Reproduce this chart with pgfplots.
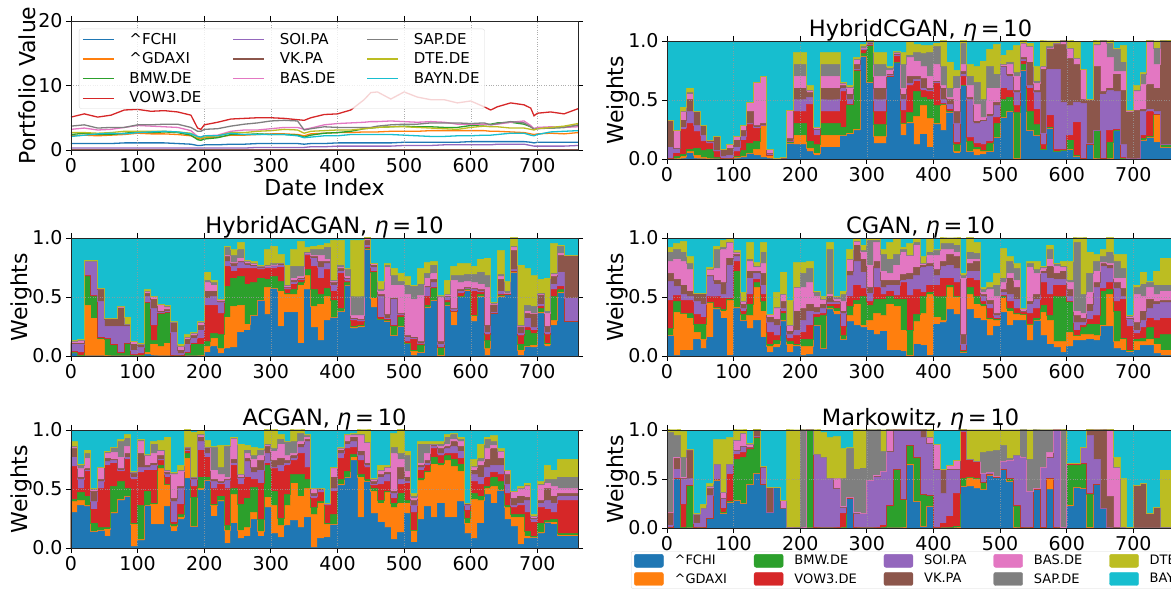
\documentclass[border=0pt]{standalone}
\usepackage{fontspec}
\setmainfont{DejaVu Sans}
\usepackage{pgfplots}
\usepackage{pgfplotstable}
\pgfplotsset{compat=1.18}
\definecolor{t1}{HTML}{1F77B4}\definecolor{t2}{HTML}{FF7F0E}\definecolor{t3}{HTML}{2CA02C}\definecolor{t4}{HTML}{D62728}\definecolor{t5}{HTML}{9467BD}
\definecolor{t6}{HTML}{8C564B}\definecolor{t7}{HTML}{E377C2}\definecolor{t8}{HTML}{7F7F7F}\definecolor{t9}{HTML}{BCBD22}\definecolor{t10}{HTML}{17BECF}
\pgfplotstableread{
x a b c d e f g h i j
0 1.0 2.2 2.4 5.1 .3 .1 3.2 3.7 2.7 2.1
20 1.0 2.3 2.6 5.6 .3 .1 3.4 3.9 2.7 2.3
40 1.0 2.2 2.4 5.1 .3 .1 3.1 3.4 2.6 2.5
60 1.0 2.3 2.4 5.4 .3 .1 3.2 3.5 2.7 2.6
80 1.1 2.4 2.6 6.2 .3 .1 3.5 3.5 2.9 2.5
100 1.1 2.6 2.8 6.3 .3 .1 3.8 3.9 2.9 2.7
120 1.1 2.5 2.7 6.0 .3 .1 3.7 3.9 2.9 2.8
140 1.1 2.5 2.8 6.1 .3 .1 3.6 4.0 2.9 2.9
160 1.0 2.4 2.7 5.9 .3 .1 3.5 4.0 2.8 2.8
180 .9 2.2 2.3 5.4 .3 .1 3.0 3.5 2.6 2.5
190 .7 1.8 1.6 3.4 .3 .1 2.1 2.9 2.0 2.1
195 .7 1.7 1.5 3.2 .3 .1 2.0 2.9 1.9 2.0
200 .8 1.9 1.7 3.9 .3 .1 2.2 3.2 2.0 2.2
220 .8 2.0 1.9 4.3 .3 .1 2.3 3.3 2.2 2.2
240 .9 2.3 2.4 4.8 .3 .1 2.9 3.7 2.7 2.6
260 .9 2.3 2.4 4.9 .3 .1 3.1 4.0 2.7 2.4
280 1.0 2.4 2.5 5.0 .4 .1 3.1 4.2 2.9 2.4
300 1.0 2.5 2.4 5.0 .4 .1 3.3 4.5 3.0 2.4
320 1.0 2.5 2.4 4.9 .4 .1 3.5 4.6 3.2 2.4
340 1.0 2.4 2.3 4.7 .4 .1 3.5 4.5 3.1 2.2
350 .9 2.2 2.0 4.6 .4 .1 3.2 3.1 2.6 1.9
360 1.0 2.5 2.3 5.0 .5 .1 3.4 3.3 2.9 2.0
380 1.0 2.6 2.6 5.5 .5 .1 3.9 3.6 3.0 2.2
400 1.1 2.7 2.7 5.6 .6 .1 4.1 3.5 3.1 2.2
420 1.1 2.7 2.9 6.2 .6 .1 4.2 3.5 3.1 2.4
440 1.1 2.8 3.3 7.8 .6 .1 4.3 3.5 3.3 2.4
450 1.1 2.8 3.4 8.9 .6 .1 4.4 3.5 3.4 2.4
460 1.1 2.8 3.5 9.0 .6 .1 4.4 3.7 3.5 2.4
480 1.1 2.9 3.6 7.9 .6 .1 4.5 3.9 3.6 2.4
500 1.2 2.9 3.7 9.0 .7 .1 4.4 4.0 3.6 2.3
520 1.2 2.9 3.6 8.2 .7 .1 4.3 4.0 3.5 2.2
540 1.2 3.0 3.6 7.8 .7 .1 4.4 4.2 3.4 2.1
560 1.2 3.0 3.5 7.8 .8 .1 4.3 4.2 3.3 2.1
580 1.2 3.0 3.5 7.3 .8 .1 4.0 4.2 3.2 2.2
600 1.3 3.0 3.8 7.6 .8 .1 4.0 4.1 3.5 2.2
620 1.3 3.0 3.9 6.7 .8 .1 4.0 4.2 3.7 2.3
630 1.3 2.9 4.0 6.2 .8 .1 3.9 3.9 3.6 2.3
640 1.3 2.9 4.2 6.7 .9 .1 4.0 4.1 3.6 2.4
660 1.3 2.8 4.3 7.3 .9 .1 4.3 4.4 3.4 2.6
680 1.3 2.7 4.0 7.0 .9 .1 4.5 4.2 3.4 2.6
690 1.2 2.5 3.6 6.5 .7 .1 3.8 3.6 3.2 2.3
695 1.1 2.4 3.3 5.3 .6 .1 3.3 3.2 3.1 2.2
700 1.2 2.5 3.4 5.7 .6 .1 3.5 3.3 3.3 2.4
720 1.2 2.6 3.4 5.9 .6 .1 3.6 3.4 3.5 2.8
740 1.2 2.5 3.5 5.6 .6 .1 3.5 3.5 3.7 2.9
761 1.2 2.7 3.8 6.4 .7 .1 3.6 3.9 4.1 3.0
}\tabV
\pgfplotstableread{
x a b c d e f g h i
0 0 0 0 0 10 32 33 33 33
10 0 0 2 5 9 9 24 24 24
20 0 2 4 25 27 33 40 40 44
30 5 6 8 30 40 50 55 56 60
40 0 3 9 23 28 40 40 40 40
50 0 1 7 15 20 28 28 28 28
60 0 0 8 13 14 16 16 16 16
70 0 0 1 6 7 19 19 19 19
80 0 0 0 0 2 8 8 8 8
90 0 0 0 0 3 9 12 12 12
100 0 1 2 6 10 16 19 19 19
110 1 2 7 16 19 24 28 28 28
120 5 5 13 29 30 40 48 48 48
130 3 8 15 26 27 28 65 65 65
140 1 28 28 28 28 30 70 70 70
150 0 3 3 3 5 5 8 8 8
160 0 0 0 0 0 0 0 0 0
170 0 0 0 0 0 0 1 1 1
180 13 13 14 15 15 17 41 41 41
190 12 20 30 40 50 60 70 80 90
200 12 20 30 40 50 60 70 80 90
210 6 9 15 46 52 56 58 58 62
220 3 5 12 20 25 25 27 27 27
230 10 20 30 40 50 60 70 80 90
240 10 20 30 40 50 60 70 80 90
250 10 20 30 40 50 60 70 80 90
260 20 20 27 57 60 62 64 64 65
270 21 22 46 46 50 55 60 61 62
280 24 25 75 75 76 80 84 84 86
290 87 87 89 92 93 94 94 95 97
300 65 65 96 96 97 98 99 99 100
310 13 19 29 40 50 60 70 80 90
320 13 19 29 40 50 60 70 80 90
330 70 70 70 70 71 72 75 77 78
340 82 82 82 87 88 89 89 90 91
350 20 30 30 41 50 55 60 80 90
360 30 31 39 62 64 70 86 88 99
370 12 36 57 66 67 70 83 90 97
380 21 45 52 58 60 68 78 89 96
390 10 34 50 57 58 60 70 90 96
400 29 30 45 64 65 66 80 95 98
410 24 46 46 47 50 60 62 78 100
420 39 39 40 42 46 50 52 60 82
430 5 6 12 14 30 40 60 70 75
440 62 62 62 70 72 74 80 98 100
450 6 6 15 18 50 52 62 70 80
460 3 8 10 13 30 32 46 65 78
470 4 6 7 12 32 33 35 50 83
480 6 6 13 15 36 38 60 78 93
490 18 18 30 35 45 48 60 72 97
500 35 35 50 60 78 78 80 80 88
510 40 40 52 58 70 72 80 82 92
520 0 0 39 45 56 58 70 73 96
530 75 75 80 83 84 86 98 98 100
540 24 24 40 60 62 82 95 95 98
550 20 20 29 42 56 58 64 66 78
560 8 8 8 12 22 76 78 78 100
570 26 26 27 37 76 94 94 95 100
580 6 6 6 8 76 97 98 98 100
590 7 7 7 8 48 97 100 100 100
600 8 8 16 20 45 85 94 94 100
610 2 2 3 31 48 80 85 85 99
620 0 0 0 0 47 50 76 76 76
630 12 12 12 12 13 50 50 50 50
640 0 0 24 24 24 78 96 97 100
650 0 0 0 0 55 57 100 100 100
660 0 0 14 24 58 60 86 98 100
670 24 24 24 25 57 72 74 93 94
680 0 0 0 1 12 58 74 82 96
690 0 0 0 0 0 40 40 41 41
700 0 0 0 0 0 41 57 58 62
710 16 16 17 20 40 42 63 72 73
720 18 18 19 40 42 63 100 100 100
730 14 38 38 38 40 60 80 94 100
740 10 10 12 12 12 100 100 100 100
761 10 10 12 12 12 100 100 100 100
}\tabH
\pgfplotstableread{
x a b c d e f g h i
0 2 3 3 4 10 11 12 12 13
10 0 0 0 3 10 11 13 13 14
20 0 43 67 68 80 80 80 80 81
30 0 32 50 51 80 80 80 80 81
40 0 14 15 16 46 56 57 57 57
50 0 0 14 15 25 31 32 32 32
60 0 0 9 10 25 32 32 32 32
70 0 0 2 3 25 41 41 42 42
80 0 0 11 11 25 27 27 27 33
90 0 0 0 1 5 10 12 12 12
100 0 0 0 2 7 10 10 10 11
110 1 3 45 45 50 53 55 55 56
120 0 10 13 26 40 48 50 50 50
130 0 8 36 36 37 38 43 44 44
140 0 11 37 37 38 39 41 42 43
150 0 0 0 0 20 28 28 28 29
160 0 0 0 0 2 5 8 8 10
170 0 0 3 3 10 14 16 16 18
180 0 0 10 11 15 17 19 19 20
190 0 0 10 15 22 26 28 28 29
200 3 8 12 43 49 55 62 64 71
210 8 15 19 43 50 55 60 62 64
220 2 6 18 36 45 46 47 48 48
230 6 33 59 76 80 84 85 92 93
240 7 42 66 72 76 78 79 85 90
250 20 43 67 74 79 80 83 90 96
260 22 27 61 74 77 78 80 80 81
270 34 34 62 74 76 77 78 78 80
280 47 47 66 73 74 75 76 76 77
290 35 58 65 74 75 76 76 77 90
300 57 57 67 74 76 77 77 78 93
310 25 55 63 75 77 78 78 78 86
320 37 52 53 56 57 58 59 60 77
330 37 52 56 61 62 64 66 76 90
340 11 60 62 64 65 66 67 76 97
350 56 68 73 85 86 87 87 88 92
360 24 42 56 76 83 84 85 90 93
370 13 44 52 66 75 80 85 90 94
380 30 50 57 73 78 80 82 92 95
390 33 33 47 55 60 62 63 64 98
400 38 38 40 70 72 74 75 77 98
410 60 60 62 63 65 66 67 73 74
420 23 24 25 30 31 32 34 50 98
430 24 25 26 29 30 31 34 50 98
440 90 90 91 92 94 98 99 100 100
450 41 49 71 72 75 77 78 78 78
460 31 31 31 33 50 52 55 56 63
470 29 29 30 31 32 35 75 77 78
480 17 17 25 26 48 49 60 68 74
490 25 25 33 34 35 36 60 63 70
500 10 11 11 12 16 17 52 60 67
510 0 4 5 14 15 16 48 59 60
520 3 3 9 11 11 12 51 61 74
530 41 41 43 50 58 59 66 70 79
540 47 47 57 58 62 65 70 77 80
550 0 0 7 7 10 12 50 50 51
560 43 43 45 47 50 50 52 52 64
570 26 38 38 38 39 40 64 68 76
580 50 50 50 53 55 56 62 68 78
590 55 56 56 57 57 58 63 69 78
600 29 34 34 55 56 57 62 69 76
610 50 50 52 54 55 56 61 71 82
620 0 6 13 18 20 26 58 68 83
630 36 36 36 36 37 44 44 45 45
640 50 50 51 52 55 65 67 69 89
650 52 52 52 52 53 53 53 55 63
660 71 71 72 72 73 89 92 93 100
670 0 5 10 17 19 25 25 26 77
680 8 8 22 24 32 36 38 43 74
690 7 9 19 22 24 36 36 42 68
700 36 37 40 42 44 52 52 53 65
710 8 10 11 18 20 25 36 38 66
720 26 30 50 56 61 67 69 70 95
730 53 54 56 59 71 85 87 93 94
740 29 29 29 29 49 85 85 85 85
761 29 29 29 29 49 85 85 85 85
}\tabHA
\pgfplotstableread{
x a b c d e f g h i
0 17 17 23 47 63 70 80 88 92
10 0 37 46 51 59 65 82 90 95
20 5 36 36 47 52 60 80 88 97
30 5 32 36 47 50 55 73 78 84
40 14 20 27 35 46 53 53 53 53
50 6 14 27 33 44 53 53 53 53
60 16 45 45 50 67 68 73 73 75
70 39 40 41 50 61 64 74 90 93
80 32 38 39 49 52 62 90 92 98
90 0 47 48 49 77 83 96 96 99
100 40 41 72 80 84 86 88 88 89
110 30 30 35 38 40 44 46 46 54
120 23 34 44 52 66 72 80 82 96
130 30 58 62 65 70 72 75 76 79
140 16 38 46 52 60 70 78 88 96
150 3 8 10 20 28 33 35 35 35
160 7 10 13 17 26 31 40 41 54
170 29 30 36 38 40 46 52 52 71
180 3 10 12 15 18 21 26 26 47
190 8 9 10 17 22 38 58 58 79
200 0 8 14 20 30 40 58 70 79
210 1 8 14 26 38 44 62 74 80
220 26 26 33 35 37 41 50 54 55
230 6 6 34 36 40 44 48 48 50
240 39 40 42 44 45 50 52 90 96
250 35 38 40 44 45 46 48 50 50
260 14 14 17 25 36 38 46 52 55
270 29 34 42 50 68 72 82 82 90
280 26 44 47 60 80 94 97 97 99
290 24 26 50 57 71 82 88 89 94
300 22 30 43 46 53 58 77 98 99
310 18 36 48 58 74 80 96 98 99
320 21 34 48 52 58 64 72 86 90
330 5 44 50 55 60 64 70 82 96
340 5 42 48 51 60 64 77 86 99
350 4 22 48 62 64 69 88 90 92
360 0 0 22 51 65 70 85 85 95
370 10 29 35 56 68 75 94 96 99
380 9 36 50 54 75 77 78 78 84
390 0 52 54 60 76 78 85 88 99
400 27 33 50 60 68 73 85 89 90
410 28 30 50 66 76 80 90 95 100
420 39 58 60 66 77 86 90 95 100
430 35 50 50 62 74 84 88 94 100
440 3 3 4 5 10 18 66 68 70
450 39 52 58 66 72 78 82 88 100
460 32 44 50 64 72 80 82 87 96
470 30 42 44 46 50 52 54 56 58
480 17 31 32 40 44 47 56 58 62
490 25 30 31 32 34 36 50 60 70
500 37 49 50 51 54 56 62 66 91
510 26 38 40 46 52 66 70 80 84
520 30 35 36 40 48 58 64 74 78
530 30 35 35 37 38 38 39 40 40
540 13 27 27 36 44 46 75 78 80
550 30 30 32 40 48 52 70 73 80
560 17 37 43 62 70 72 74 75 76
570 10 30 34 52 66 76 82 90 94
580 7 12 50 60 65 70 76 78 78
590 3 12 50 60 65 72 75 76 80
600 8 20 46 46 50 56 62 64 80
610 13 17 17 22 28 34 38 96 100
620 13 18 24 26 28 32 36 52 100
630 14 18 27 31 38 44 54 70 88
640 13 17 27 34 58 62 72 80 86
650 25 26 55 57 76 78 79 84 90
660 25 52 56 62 74 77 78 88 100
670 6 12 38 46 57 62 66 80 86
680 5 14 15 48 50 57 66 74 86
690 3 4 5 25 31 32 33 34 34
700 5 12 14 19 22 28 52 58 60
710 9 12 15 24 30 38 50 61 71
720 9 14 24 32 40 48 58 62 63
730 2 10 15 30 44 46 52 60 72
740 0 5 18 32 45 47 55 60 83
761 0 5 22 31 43 47 53 60 84
}\tabC
\pgfplotstableread{
x a b c d e f g h i
0 30 39 41 69 77 84 85 86 90
10 36 40 47 50 58 60 67 70 71
20 35 36 44 65 66 67 76 80 83
30 14 14 21 33 39 48 49 50 50
40 15 15 17 50 56 58 68 68 68
50 10 16 17 70 73 76 80 81 82
60 29 30 52 72 74 75 81 85 85
70 40 41 56 65 66 67 77 90 92
80 44 44 50 75 77 80 86 93 96
90 1 20 21 58 60 63 64 64 65
100 6 7 36 64 68 80 90 91 92
110 36 36 48 66 68 70 78 78 79
120 20 37 38 66 70 72 80 88 90
130 20 67 70 74 75 78 82 83 91
140 35 54 54 60 62 64 65 66 94
150 14 18 20 22 39 42 62 63 64
160 24 26 28 37 50 52 65 66 70
170 59 76 80 82 83 84 85 85 100
180 18 18 43 52 58 60 60 60 98
190 49 50 60 83 90 94 95 96 99
200 57 57 60 77 80 85 85 85 91
210 27 36 37 50 56 58 66 85 86
220 39 40 44 54 55 56 62 68 87
230 4 15 19 50 57 58 60 86 87
240 21 45 50 70 72 75 93 93 94
250 8 15 37 54 59 60 62 62 88
260 10 17 42 60 73 76 80 83 87
270 24 30 51 58 64 68 75 78 85
280 10 14 24 55 66 74 78 83 84
290 34 43 70 72 80 86 87 88 100
300 12 36 48 67 68 74 82 84 100
310 9 19 25 65 70 76 88 92 96
320 19 36 45 70 72 74 78 90 90
330 23 55 62 74 76 78 80 90 100
340 17 44 62 80 85 88 90 97 100
350 26 50 58 68 90 92 94 95 96
360 0 28 34 42 44 46 50 50 50
370 8 38 39 47 49 50 50 50 50
380 9 20 21 36 37 38 38 38 38
390 20 20 28 48 50 60 67 68 68
400 53 54 58 76 80 83 84 84 85
410 60 60 65 84 88 90 95 96 96
420 74 77 79 85 90 94 95 96 97
430 26 60 62 74 78 82 95 96 100
440 56 56 58 68 70 72 89 89 100
450 29 48 50 53 54 56 58 58 59
460 22 38 40 54 60 62 66 66 70
470 17 47 48 56 62 64 68 68 70
480 7 34 38 42 46 48 80 85 97
490 13 38 46 54 58 68 75 80 100
500 29 38 40 55 56 60 65 78 82
510 5 15 15 30 36 40 42 44 46
520 24 57 59 66 68 70 72 88 90
530 35 64 65 70 72 74 80 88 90
540 26 71 77 84 86 87 88 88 90
550 38 70 72 78 80 84 86 88 90
560 26 74 78 80 84 86 88 94 96
570 26 69 75 80 86 90 92 96 97
580 39 65 71 76 82 86 90 92 94
590 12 21 25 32 36 38 38 38 38
600 8 41 46 56 62 66 68 69 75
610 21 40 44 54 60 70 73 76 88
620 45 50 52 60 68 75 84 92 94
630 38 52 60 64 70 84 87 90 95
640 49 49 56 62 70 76 82 82 84
650 24 34 36 46 54 62 66 66 66
660 18 26 28 34 36 42 48 48 48
670 3 26 28 36 38 44 50 50 52
680 8 10 14 30 40 43 52 53 55
690 9 9 10 22 24 25 27 27 28
700 12 13 21 34 38 40 53 54 56
710 22 22 23 33 40 50 55 58 70
720 20 22 24 30 38 44 52 58 66
730 10 11 12 40 44 46 50 60 75
761 10 11 12 41 45 62 62 62 75
}\tabA
\pgfplotstableread{
x a b c d e f g h i
0 0 0 0 0 3 16 16 97 100
10 50 50 50 50 60 71 72 94 100
20 0 0 0 24 50 50 52 72 98
30 0 0 43 43 50 79 80 80 80
40 0 0 0 0 5 14 14 14 15
50 0 0 0 0 20 20 20 20 24
60 10 10 10 10 33 40 41 42 45
70 48 48 49 49 65 65 65 65 90
80 15 15 16 20 30 30 36 36 90
90 26 26 27 55 65 65 65 65 92
100 28 28 70 75 79 79 89 89 100
110 25 25 72 77 83 83 96 96 100
120 44 44 80 81 82 82 85 85 86
130 56 56 92 92 93 100 100 100 100
140 44 44 44 44 62 62 63 63 63
150 16 16 16 16 16 41 41 41 41
160 41 41 41 41 41 41 41 41 41
170 20 20 20 20 20 20 28 28 28
180 0 0 0 0 0 0 0 0 100
190 0 0 0 0 0 0 0 0 100
200 0 0 0 0 0 0 0 100 100
210 0 0 100 100 100 100 100 100 100
220 0 0 0 0 75 75 75 75 100
230 0 0 0 0 72 72 72 72 97
240 0 0 0 0 50 50 50 50 92
250 0 0 0 0 40 40 50 50 93
260 0 0 0 15 21 21 22 50 81
270 30 30 30 30 31 31 31 81 82
280 0 0 0 0 15 15 16 60 100
290 0 0 0 0 15 15 15 61 100
300 0 0 0 0 48 48 48 100 100
310 0 0 0 0 53 53 54 100 100
320 0 0 0 3 58 58 58 78 100
330 0 0 22 23 78 78 100 100 100
340 0 0 60 60 100 100 100 100 100
350 0 0 29 29 100 100 100 100 100
360 64 65 84 84 100 100 100 100 100
370 27 27 72 72 100 100 100 100 100
380 2 2 34 34 92 100 100 100 100
390 22 22 33 33 86 86 92 92 100
400 0 0 0 1 60 60 85 85 85
410 0 0 0 5 35 60 60 60 60
420 0 0 0 12 60 60 64 64 64
430 0 0 2 35 60 60 69 69 69
440 42 42 50 98 98 100 100 100 100
450 42 52 52 70 70 70 70 70 100
460 40 50 50 68 68 68 68 68 100
470 39 39 46 46 56 56 56 77 100
480 54 54 55 55 57 57 57 78 100
490 52 52 52 52 53 53 53 79 100
500 60 60 60 60 68 68 68 84 100
510 47 47 50 50 69 69 69 71 100
520 0 0 22 23 74 74 74 74 100
530 0 0 0 0 72 72 72 100 100
540 0 0 0 0 37 37 37 70 100
550 39 39 39 39 40 40 40 100 100
560 0 0 0 0 62 62 62 100 100
570 39 50 50 50 72 72 77 100 100
580 0 0 0 0 100 100 100 100 100
590 0 0 0 0 0 0 0 100 100
600 22 23 64 66 66 66 66 66 66
610 41 41 64 65 66 66 66 66 66
620 40 40 65 66 82 82 82 82 82
630 0 0 34 35 94 100 100 100 100
640 44 44 44 44 70 100 100 100 100
650 20 20 20 20 20 100 100 100 100
660 0 0 0 0 0 32 100 100 100
670 0 0 0 0 0 0 62 62 72
680 0 0 0 0 0 0 0 0 50
690 0 0 0 0 0 0 0 0 0
700 0 0 0 0 0 43 43 43 43
710 0 0 0 0 0 45 45 45 45
720 0 0 0 0 0 15 15 15 15
730 0 0 0 0 0 21 21 21 21
740 0 0 0 0 0 0 0 0 59
761 0 0 0 0 0 0 0 0 59
}\tabM
\newcommand\lay[3]{\addplot[forget plot,const plot,fill=#3,draw=none] table[x=x,y expr=\thisrow{#2}/100]{#1} \closedcycle;}
\newcommand\edg[3]{\addplot[forget plot,const plot,draw=#3,line width=1pt,draw opacity=.8] table[x=x,y expr=\thisrow{#2}/100]{#1};}
\newcommand\wstack[1]{%
\addplot[forget plot,fill=t10,draw=none] coordinates {(0,1) (761,1)} \closedcycle;
\lay{#1}{i}{t9}\lay{#1}{h}{t8}\lay{#1}{g}{t7}\lay{#1}{f}{t6}\lay{#1}{e}{t5}\lay{#1}{d}{t4}\lay{#1}{c}{t3}\lay{#1}{b}{t2}\lay{#1}{a}{t1}
\edg{#1}{a}{t1}\edg{#1}{b}{t2}\edg{#1}{c}{t3}\edg{#1}{d}{t4}\edg{#1}{e}{t5}\edg{#1}{f}{t6}\edg{#1}{g}{t7}\edg{#1}{h}{t8}\edg{#1}{i}{t9}}
\newcommand\lline[2]{\addplot[forget plot,draw=#2,line width=1.3pt] table[x=x,y=#1]{\tabV};}
\newcommand\etaten{{\itshape η}\,=\,10}
\pgfplotsset{
 base/.style={scale only axis,width=507pt,xmin=0,xmax=761,xtick={0,100,...,700},
  axis on top,grid=major,grid style={dotted,line width=.45pt,black!40,opacity=.8},
  axis line style={line width=.9pt,black!85},
  tick style={line width=.8pt,black},tick align=outside,major tick length=5pt,
  /pgf/number format/assume math mode=true,
  tick label style={font=\fontsize{19}{19}\selectfont},
  label style={font=\fontsize{22}{22}\selectfont},
  title style={font=\fontsize{22.5}{22.5}\selectfont,at={(axis description cs:0.5,1)},anchor=south,yshift=-7pt,inner sep=1pt},
  scaled ticks=false},
 wt/.style={base,height=118pt,ymin=0,ymax=1,ytick={0,0.5,1},ylabel={Weights},
  yticklabel style={/pgf/number format/fixed,/pgf/number format/fixed zerofill,/pgf/number format/precision=1},
  ylabel style={at={(axis description cs:-0.097,0.5)},anchor=center}}
}
\begin{document}
\begin{tikzpicture}
\path[use as bounding box,clip] (0pt,0pt) rectangle (1171pt,589pt);
\begin{axis}[base,at={(71pt,439pt)},anchor=south west,height=129pt,ymin=0,ymax=20,ytick={0,10,20},
 xlabel={Date Index},ylabel={Portfolio Value},
 ylabel style={at={(axis description cs:-0.087,0.5)},anchor=center},
 xlabel style={at={(axis description cs:0.5,-0.29)},anchor=center},
 legend columns=3,legend cell align=left,
 legend style={at={(axis cs:12,18.8)},anchor=north west,font=\fontsize{15}{15}\selectfont,fill=white,fill opacity=.8,draw opacity=1,text opacity=1,draw=black!15,rounded corners=2pt,
  row sep=3pt,/tikz/every odd column/.append style={column sep=13pt},/tikz/every even column/.append style={column sep=29pt}},
 legend image code/.code={\draw[#1,line width=1.3pt] (0pt,0pt) -- (31pt,0pt);}]
\addlegendimage{t1}\addlegendentry{\^{}FCHI}
\addlegendimage{t5}\addlegendentry{SOI.PA}
\addlegendimage{t8}\addlegendentry{SAP.DE}
\addlegendimage{t2}\addlegendentry{\^{}GDAXI}
\addlegendimage{t6}\addlegendentry{VK.PA}
\addlegendimage{t9}\addlegendentry{DTE.DE}
\addlegendimage{t3}\addlegendentry{BMW.DE}
\addlegendimage{t7}\addlegendentry{BAS.DE}
\addlegendimage{t10}\addlegendentry{BAYN.DE}
\addlegendimage{t4}\addlegendentry{VOW3.DE}
\lline{a}{t1}\lline{b}{t2}\lline{c}{t3}\lline{d}{t4}\lline{e}{t5}\lline{f}{t6}\lline{g}{t7}\lline{h}{t8}\lline{i}{t9}\lline{j}{t10}
\end{axis}
\begin{axis}[wt,at={(667pt,430pt)},anchor=south west,title={HybridCGAN, \etaten}]
\wstack{\tabH}
\end{axis}
\begin{axis}[wt,at={(71pt,233pt)},anchor=south west,title={HybridACGAN, \etaten}]
\wstack{\tabHA}
\end{axis}
\begin{axis}[wt,at={(667pt,233pt)},anchor=south west,title={CGAN, \etaten}]
\wstack{\tabC}
\end{axis}
\begin{axis}[wt,at={(71pt,41pt)},anchor=south west,title={ACGAN, \etaten}]
\wstack{\tabA}
\end{axis}
\begin{axis}[wt,height=98pt,at={(667pt,61pt)},anchor=south west,title={Markowitz, \etaten},
 legend columns=5,legend cell align=left,
 legend style={at={(axis description cs:-0.071,-0.235)},anchor=north west,font=\fontsize{13}{13}\selectfont,draw=black!15,rounded corners=2pt,
  row sep=3pt,/tikz/every odd column/.append style={column sep=9pt},/tikz/every even column/.append style={column sep=25pt}},
 legend image code/.code={\fill[#1] (0pt,-6.5pt) rectangle (29pt,6.5pt);}]
\addlegendimage{t1}\addlegendentry{\^{}FCHI}
\addlegendimage{t3}\addlegendentry{BMW.DE}
\addlegendimage{t5}\addlegendentry{SOI.PA}
\addlegendimage{t7}\addlegendentry{BAS.DE}
\addlegendimage{t9}\addlegendentry{DTE.DE}
\addlegendimage{t2}\addlegendentry{\^{}GDAXI}
\addlegendimage{t4}\addlegendentry{VOW3.DE}
\addlegendimage{t6}\addlegendentry{VK.PA}
\addlegendimage{t8}\addlegendentry{SAP.DE}
\addlegendimage{t10}\addlegendentry{BAYN.DE}
\wstack{\tabM}
\end{axis}
\end{tikzpicture}
\end{document}
